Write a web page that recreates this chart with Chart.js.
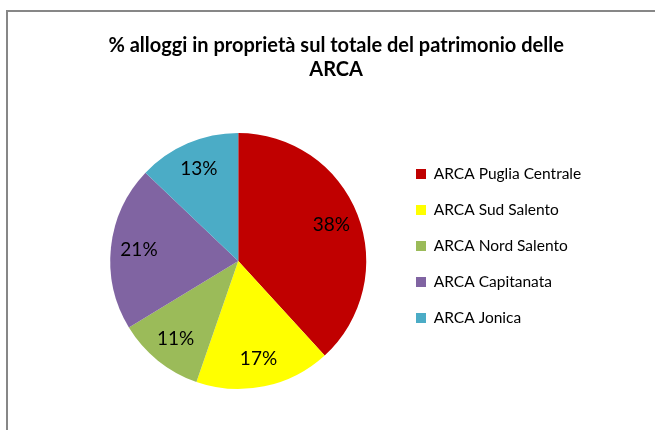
<!DOCTYPE html>
<html>
<head>
<meta charset="utf-8">
<script src="https://cdn.jsdelivr.net/npm/chart.js@4/dist/chart.umd.min.js"></script>
<style>
  html, body { margin: 0; padding: 0; background: #ffffff; overflow: hidden; }
  #wrap { position: relative; width: 655px; height: 430px; overflow: hidden; background: #ffffff; }
  #frame { position: absolute; left: 6px; top: 10px; width: 800px; height: 600px;
           border-left: 2px solid #878787; border-top: 2px solid #878787; pointer-events: none; }
  canvas { position: absolute; left: 0; top: 0; }
</style>
</head>
<body>
<div id="wrap">
  <canvas id="c" width="655" height="430"></canvas>
  <div id="frame"></div>
</div>
<script>
// ---- data ----
const titleLines = ["% alloggi in proprietà sul totale del patrimonio delle", "ARCA"];
const categories = ["ARCA Puglia Centrale", "ARCA Sud Salento", "ARCA Nord Salento", "ARCA Capitanata", "ARCA Jonica"];
const shares = [38.2, 17.1, 11.0, 20.8, 12.9];
const sliceColors = ["#C00000", "#FFFF00", "#9BBB59", "#8064A2", "#4BACC6"];

// ---- layout helpers ----
const FONT = "Lato, 'Open Sans', 'DejaVu Sans', sans-serif";
const legendFontSize = 15.5;
const legendPad = 36 - legendFontSize;
const legendBox = 10;
const measure = document.createElement('canvas').getContext('2d');
measure.font = legendFontSize + "px " + FONT;
const maxText = Math.max(...categories.map(t => measure.measureText(t).width));
const legendWidth = legendPad + legendBox + legendFontSize / 2 + maxText + 10;
const legendLeft = 416 - legendPad;
const padRight = 655 - legendLeft - legendWidth;
const chartTop = 133;
const firstItemTop = 174 - legendFontSize / 2;
const legendTitleH = firstItemTop - chartTop - legendPad;

const pctLabels = {
  id: 'pctLabels',
  afterDatasetsDraw(chart) {
    const ctx = chart.ctx;
    const meta = chart.getDatasetMeta(0);
    const vals = chart.data.datasets[0].data;
    const total = vals.reduce((a, b) => a + b, 0);
    ctx.save();
    ctx.font = "19px " + FONT;
    ctx.fillStyle = "#000000";
    ctx.textAlign = "center";
    ctx.textBaseline = "middle";
    meta.data.forEach((arc, i) => {
      const p = arc.getProps(['x', 'y', 'startAngle', 'endAngle', 'outerRadius'], true);
      const mid = (p.startAngle + p.endAngle) / 2;
      const r = p.outerRadius * 0.78;
      ctx.fillText(Math.round(vals[i] / total * 100) + "%", p.x + Math.cos(mid) * r, p.y + Math.sin(mid) * r);
    });
    ctx.restore();
  }
};

new Chart(document.getElementById('c'), {
  type: 'pie',
  data: {
    labels: categories,
    datasets: [{
      data: shares,
      backgroundColor: sliceColors,
      borderWidth: 0
    }]
  },
  options: {
    responsive: false,
    animation: false,
    devicePixelRatio: 1,
    layout: { padding: { left: 81, right: padRight, top: 0, bottom: 41 } },
    plugins: {
      tooltip: { enabled: false },
      title: {
        display: true,
        text: titleLines,
        color: "#000000",
        font: { family: FONT, size: 20, weight: 'bold', lineHeight: 24 / 20 },
        padding: { top: 34, bottom: chartTop - 34 - 48 }
      },
      legend: {
        display: true,
        position: 'right',
        align: 'start',
        fullSize: false,
        title: { display: true, text: '', font: { size: 10, lineHeight: legendTitleH / 10 }, padding: 0 },
        labels: {
          boxWidth: legendBox,
          boxHeight: legendBox,
          padding: legendPad,
          color: "#000000",
          font: { family: FONT, size: legendFontSize }
        }
      }
    }
  },
  plugins: [pctLabels]
});
</script>
</body>
</html>
